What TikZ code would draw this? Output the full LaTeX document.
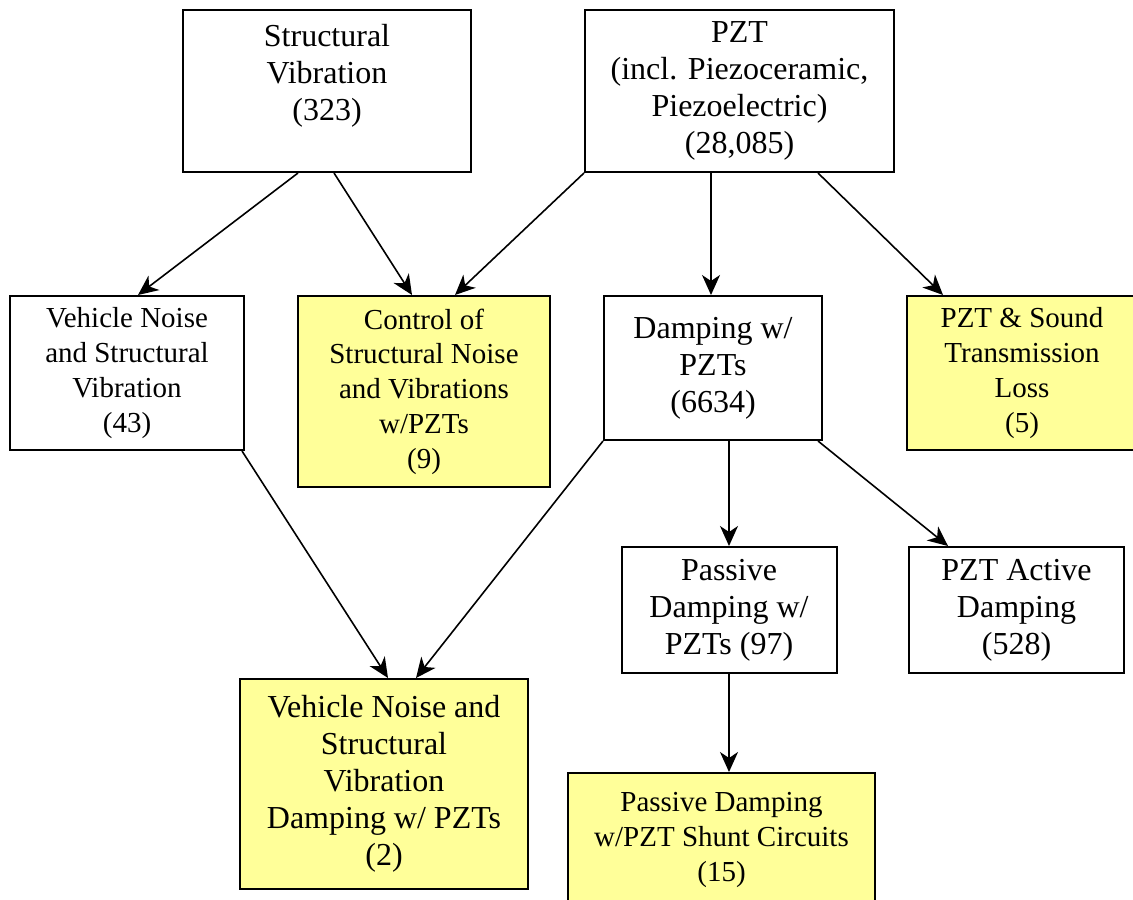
\documentclass[tikz,border=0pt]{standalone}
\usepackage{fontspec}
\setmainfont{Liberation Serif}
\usetikzlibrary{arrows.meta}
\definecolor{boxyellow}{RGB}{255,255,153}

\begin{document}
\begin{tikzpicture}[x=0.5pt,y=-0.5pt]
	\tikzstyle{every node}+=[inner sep=0pt]
	\tikzstyle{cell}=[draw=black, line width=1pt, align=center, fill=white]
	\tikzstyle{hitcell}=[cell, fill=boxyellow]
	\tikzstyle{bigtext}=[font=\fontsize{16}{18.5}\selectfont]
	\tikzstyle{smalltext}=[font=\fontsize{14.5}{17.4}\selectfont]
	\tikzstyle{link}=[black, line width=0.8pt, -{Stealth[length=10pt,width=9pt,inset=3pt]}]
	\useasboundingbox (0,0) rectangle (1133,899);
	\clip (0,0) rectangle (1133,899);
	\node [cell, bigtext, minimum width=144pt, minimum height=81pt] (sv) at (327,91) {Structural\\Vibration\\(323)\\\mbox{}};
	\node [cell, bigtext, minimum width=154.5pt, minimum height=81pt] (pzt) at (739.5,91) {PZT\\(incl. Piezoceramic,\\Piezoelectric)\\(28,085)};
	\node [cell, smalltext, minimum width=117pt, minimum height=77pt] (vn) at (127,373) {Vehicle Noise\\and Structural\\Vibration\\(43)};
	\node [hitcell, smalltext, minimum width=126pt, minimum height=95.5pt] (ctl) at (424,391.5) {Control of\\Structural Noise\\and Vibrations\\w/PZTs\\(9)};
	\node [cell, bigtext, minimum width=109pt, minimum height=72pt] (dmp) at (713,368) {Damping w/\\PZTs\\(6634)};
	\node [hitcell, smalltext, minimum width=115pt, minimum height=77pt] (stl) at (1022,373) {PZT \& Sound\\Transmission\\Loss\\(5)};
	\node [cell, bigtext, minimum width=107.5pt, minimum height=63pt] (pas) at (729,610) {Passive\\Damping w/\\PZTs (97)};
	\node [cell, bigtext, minimum width=107.5pt, minimum height=63pt] (act) at (1016.5,610) {PZT Active\\Damping\\(528)};
	\node [hitcell, bigtext, minimum width=144pt, minimum height=105pt] (vnd) at (384,784) {Vehicle Noise and\\Structural\\Vibration\\Damping w/ PZTs\\(2)};
	\node [hitcell, smalltext, minimum width=153.5pt, minimum height=67pt] (shunt) at (721.5,840) {Passive Damping\\w/PZT Shunt Circuits\\(15)};
	\draw [link] ([xshift=-14.5pt]sv.south) -- ([xshift=5.5pt]vn.north);
	\draw [link] ([xshift=3.5pt]sv.south) -- ([xshift=-6pt]ctl.north);
	\draw [link] (pzt.south west) -- ([xshift=15.5pt]ctl.north);
	\draw [link] ([xshift=-14.25pt]pzt.south) -- ([xshift=-1pt]dmp.north);
	\draw [link] ([xshift=39.25pt]pzt.south) -- ([xshift=-39.5pt]stl.north);
	\draw [link] ([xshift=-1.5pt]vn.south east) -- ([xshift=2pt]vnd.north);
	\draw [link] (dmp.south west) -- ([xshift=16pt]vnd.north);
	\draw [link] ([xshift=8pt]dmp.south) -- (pas.north);
	\draw [link] ([xshift=52.5pt]dmp.south) -- ([xshift=-34.25pt]act.north);
	\draw [link] (pas.south) -- ([xshift=3.75pt]shunt.north);
\end{tikzpicture}
\end{document}
